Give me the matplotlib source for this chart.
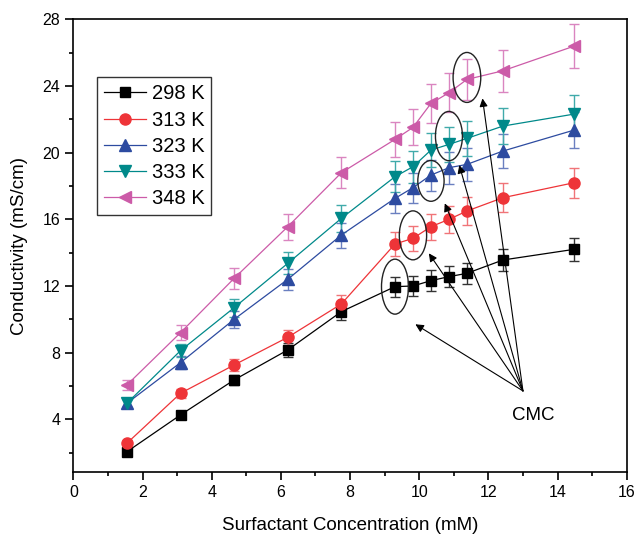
import matplotlib
matplotlib.use('Agg')
import matplotlib.pyplot as plt
from matplotlib.patches import Ellipse
from matplotlib.lines import Line2D
from matplotlib.ticker import MultipleLocator

plt.rcParams['font.family'] = ['Liberation Sans', 'DejaVu Sans']

# surfactant concentration (mM)
conc = [1.55, 3.1, 4.65, 6.2, 7.75, 9.3, 9.82, 10.34, 10.86, 11.38, 12.42, 14.48]

labels = ['298 K', '313 K', '323 K', '333 K', '348 K']

k298 = [2.05, 4.26, 6.36, 8.16, 10.46, 11.96, 12.0, 12.32, 12.56, 12.76, 13.56, 14.2]
k313 = [2.56, 5.56, 7.26, 8.92, 10.92, 14.52, 14.86, 15.56, 16.0, 16.5, 17.3, 18.2]
k323 = [4.96, 7.4, 10.0, 12.4, 15.06, 17.26, 17.9, 18.66, 19.1, 19.3, 20.1, 21.36]
k333 = [4.96, 8.12, 10.7, 13.36, 16.06, 18.56, 19.16, 20.16, 20.5, 20.86, 21.6, 22.32]
k348 = [6.06, 9.2, 12.46, 15.56, 18.8, 20.8, 21.52, 22.96, 23.6, 24.4, 24.92, 26.4]

e298 = [0.1, 0.21, 0.32, 0.41, 0.52, 0.6, 0.6, 0.62, 0.63, 0.64, 0.68, 0.71]
e313 = [0.13, 0.28, 0.36, 0.45, 0.55, 0.73, 0.74, 0.78, 0.8, 0.83, 0.87, 0.91]
e323 = [0.25, 0.37, 0.5, 0.62, 0.75, 0.86, 0.9, 0.93, 0.95, 0.97, 1.0, 1.07]
e333 = [0.25, 0.41, 0.54, 0.67, 0.8, 0.92, 0.96, 1.01, 1.03, 1.04, 1.08, 1.12]
e348 = [0.3, 0.46, 0.62, 0.78, 0.94, 1.04, 1.08, 1.15, 1.18, 1.22, 1.25, 1.32]

# CMC points circled (index into conc for each series)
cmc_idx = [5, 6, 7, 8, 9]
# arrow tips pointing at the ellipses
arrow_tips = [(9.89, 9.7), (10.28, 13.96), (10.74, 16.96), (11.16, 19.26), (11.83, 23.26)]

series = [k298, k313, k323, k333, k348]
errors = [e298, e313, e323, e333, e348]
colors = ['#000000', '#EE3438', '#2D4BA0', '#00898A', '#CC5BA8']
ecolors = ['#333333', '#F07478', '#6A7FC0', '#40AAAA', '#DA85C0']
markers = ['s', 'o', '^', 'v', '<']
msizes = [7, 8, 8.5, 8.5, 8.5]

fig = plt.figure(figsize=(6.36, 5.35), dpi=100)
ax = fig.add_axes([0.1153, 0.1183, 0.8701, 0.8453])

handles = []
for y, e, c, ec, m, ms, lab in zip(series, errors, colors, ecolors, markers, msizes, labels):
    ax.errorbar(conc, y, yerr=e, color=c, ecolor=ec, marker=m, markersize=ms,
                lw=0.9, elinewidth=1.0, capsize=3.8, capthick=1.0)
    handles.append(Line2D([], [], color=c, marker=m, markersize=ms, lw=0.9, label=lab))

# ellipses around CMC points
ell_size = [(0.78, 3.3), (0.79, 2.94), (0.76, 2.45), (0.78, 2.96), (0.8, 3.0)]
ell_dy = [0.0, 0.18, -0.35, 0.5, 0.12]
for y, i, (w, h), dy in zip(series, cmc_idx, ell_size, ell_dy):
    ax.add_patch(Ellipse((conc[i], y[i] + dy), w, h, fill=False, ec='#222222', lw=1.0, zorder=5))

for tip in arrow_tips:
    ax.annotate('', xy=tip, xytext=(13.0, 5.7),
                arrowprops=dict(arrowstyle='-|>', color='k', lw=0.8,
                                mutation_scale=12, shrinkA=0, shrinkB=0))
ax.text(13.3, 4.2, 'CMC', fontsize=13.5, ha='center', va='center')

ax.set_xlim(0, 16)
ax.set_ylim(0.85, 28)
ax.xaxis.set_major_locator(MultipleLocator(2))
ax.xaxis.set_minor_locator(MultipleLocator(1))
ax.yaxis.set_major_locator(MultipleLocator(4))
ax.yaxis.set_minor_locator(MultipleLocator(2))
ax.tick_params(which='major', direction='out', length=6, width=1.2, labelsize=11.5)
ax.tick_params(which='minor', direction='out', length=3, width=1.2)
for s in ax.spines.values():
    s.set_linewidth(1.2)

ax.set_xlabel('Surfactant Concentration (mM)', fontsize=13.5, labelpad=12)
ax.set_ylabel('Conductivity (mS/cm)', fontsize=13.5, labelpad=10)

leg = ax.legend(handles=handles, loc='upper left', bbox_to_anchor=(0.043, 0.872), borderaxespad=0,
                fontsize=14.5, handlelength=2.1, labelspacing=0.36, handletextpad=0.25,
                fancybox=False, edgecolor='#333333', framealpha=1, borderpad=0.35)
leg.get_frame().set_linewidth(1.0)

plt.savefig('out.png', dpi=100)
